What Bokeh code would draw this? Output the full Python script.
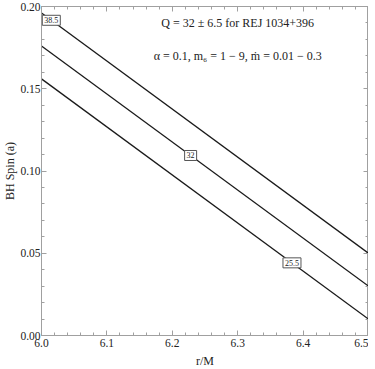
from bokeh.plotting import figure
from bokeh.models import (LinearAxis, SingleIntervalTicker, NumeralTickFormatter,
                          CustomJSTickFormatter, Label)
from bokeh.embed import file_html
from bokeh.resources import INLINE
import numpy as np

# ---- data ----
r_vals = [6.0, 6.5]
spin_q385 = [0.196, 0.050]
spin_q32 = [0.176, 0.030]
spin_q255 = [0.156, 0.010]
q_labels = ["38.5", "32", "25.5"]
q_label_r = [6.015, 6.228, 6.383]

title_line1 = "Q = 32 \u00b1 6.5 for REJ 1034+396"
title_line2 = "\u03b1 = 0.1, m\u2086 = 1 \u2212 9, m\u0307 = 0.01 \u2212 0.3"

SERIF = "Liberation Serif"
GRAY = "#a0a0a0"

p = figure(frame_width=327, frame_height=329, x_range=(6.0, 6.5), y_range=(0.0, 0.2),
           output_backend="svg", toolbar_location=None,
           min_border_left=0, min_border_right=0, min_border_top=6,
           min_border_bottom=0, x_axis_label="r/M", y_axis_label="BH Spin (a)")
p.grid.visible = False
p.outline_line_color = GRAY
p.background_fill_color = "white"
p.border_fill_color = "white"

p.xaxis.ticker = SingleIntervalTicker(interval=0.1, num_minor_ticks=5)
p.yaxis.ticker = SingleIntervalTicker(interval=0.05, num_minor_ticks=5)
p.xaxis.formatter = NumeralTickFormatter(format="0.0")
p.yaxis.formatter = NumeralTickFormatter(format="0.00")

for ax in [p.xaxis[0], p.yaxis[0]]:
    ax.axis_line_color = GRAY
    ax.major_tick_line_color = GRAY
    ax.minor_tick_line_color = GRAY
    ax.major_tick_in = 5
    ax.major_tick_out = 0
    ax.minor_tick_in = 3
    ax.minor_tick_out = 0
    ax.major_label_text_font = SERIF
    ax.major_label_text_font_size = "11.5px"
    ax.major_label_text_color = "#222222"
    ax.axis_label_text_font = SERIF
    ax.axis_label_text_font_size = "12px"
    ax.axis_label_text_font_style = "normal"
    ax.axis_label_text_color = "#222222"
    ax.major_label_standoff = 1
    ax.axis_label_standoff = 0

p.xaxis.major_label_standoff = 3
p.xaxis.axis_label_standoff = 4

# mirrored ticks on top and right (no labels)
top = LinearAxis(ticker=SingleIntervalTicker(interval=0.1, num_minor_ticks=5),
                 formatter=CustomJSTickFormatter(code="return ''"),
                 major_label_standoff=0)
right = LinearAxis(ticker=SingleIntervalTicker(interval=0.05, num_minor_ticks=5),
                   formatter=CustomJSTickFormatter(code="return ''"),
                   major_label_standoff=0)
for ax in [top, right]:
    ax.axis_line_color = GRAY
    ax.major_tick_line_color = GRAY
    ax.minor_tick_line_color = GRAY
    ax.major_tick_in = 5
    ax.major_tick_out = 0
    ax.minor_tick_in = 3
    ax.minor_tick_out = 0
p.add_layout(top, "above")
p.add_layout(right, "right")

series = [spin_q385, spin_q32, spin_q255]
for s in series:
    p.line(r_vals, s, line_color="#1a1a1a", line_width=1.3)

for txt, rx, s in zip(q_labels, q_label_r, series):
    yv = float(np.interp(rx, r_vals, s))
    p.add_layout(Label(x=rx, y=yv, text=txt, text_align="center",
                       text_baseline="middle", text_font=SERIF,
                       text_font_size="8px", text_color="#222222",
                       background_fill_color="white", border_line_color="#555555",
                       border_line_width=1, padding=2))

p.add_layout(Label(x=6.30, y=0.190, text=title_line1, text_align="center",
                   text_baseline="middle", text_font=SERIF,
                   text_font_size="12px", text_color="#222222"))
p.add_layout(Label(x=6.30, y=0.170, text=title_line2, text_align="center",
                   text_baseline="middle", text_font=SERIF,
                   text_font_size="12px", text_color="#222222"))

open("out.html", "w").write(file_html(p, INLINE))
